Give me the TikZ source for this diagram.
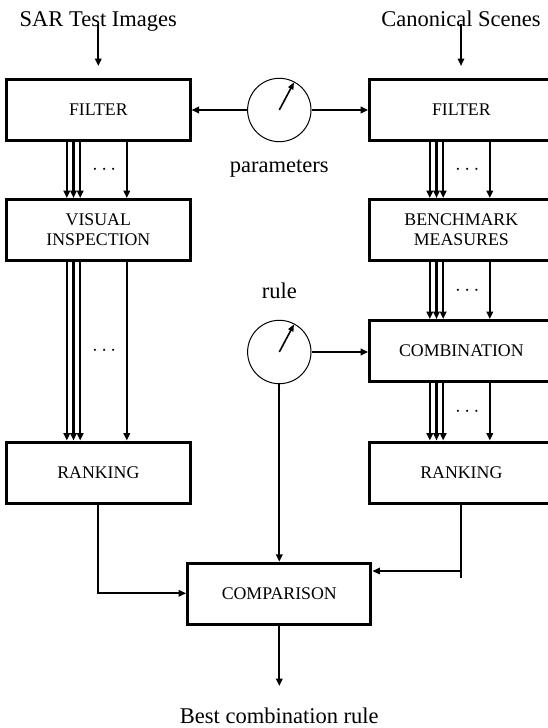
\documentclass[tikz,border=0pt]{standalone}
\usepackage{fontspec}
\setmainfont{Liberation Serif}
\usetikzlibrary{arrows.meta,calc}
\tikzset{
  box/.style={draw, line width=3pt, minimum width=183.3pt, minimum height=61pt,
    inner sep=0pt, align=center, font=\fontsize{17.8}{20}\selectfont},
  dial/.style={draw, circle, line width=1pt, minimum size=63.4pt, inner sep=0pt},
  lbl/.style={font=\fontsize{22.5}{27}\selectfont, inner sep=0pt, anchor=base},
  dotslbl/.style={font=\fontsize{21}{24}\selectfont, inner sep=0pt},
  arr/.style={line width=2.1pt, -{Triangle[length=7.5pt,width=6.5pt]}},
  plain/.style={line width=2.1pt},
  needle/.style={line width=1.6pt, -{Triangle[length=7pt,width=5.5pt]}}
}
\newcommand{\multiarrows}[2]{%
  \foreach \d in {61.6,68.3,75,121.6}
    \draw[arr] ($(#1.south west)+(\d,0)$) -- ($(#2.north west)+(\d,0)$);
  \node[dotslbl] at ($($(#1.south west)!0.5!(#2.north west)$)+(99,0)$) {$\cdots$};
}
\begin{document}
\begin{tikzpicture}[x=1pt,y=-1pt]
\useasboundingbox (0,0) rectangle (548,728);
% top labels
\node[lbl] (sar) at (98.3,26) {SAR Test Images};
\node[lbl] (can) at (461,26) {Canonical Scenes};
\coordinate (sarin) at (98.3,24);
\coordinate (sartip) at (98.3,66);
\coordinate (canin) at (461,24);
\coordinate (cantip) at (461,66);
% boxes
\node[box] (fl) at (98.35,109.5) {FILTER};
\node[box] (fr) at (461.35,109.5) {FILTER};
\node[box] (vi) at (98.35,230) {VISUAL\\INSPECTION};
\node[box] (bm) at (461.35,230) {BENCHMARK\\MEASURES};
\node[box] (cb) at (461.35,351) {COMBINATION};
\node[box] (rl) at (98.35,472.5) {RANKING};
\node[box] (rr) at (461.35,472.5) {RANKING};
\node[box] (cmp) at (279.3,593.8) {COMPARISON};
% dials
\node[dial] (pc) at (279.3,110) {};
\node[dial] (rc) at (279.3,352) {};
\node[lbl] (par) at (279.3,172) {parameters};
\node[lbl] (rul) at (279.3,298) {rule};
\draw[needle] (pc.center) -- ++(-62:31.3);
\draw[needle] (rc.center) -- ++(-62:31.3);
% output label
\node[lbl] (best) at (279.3,723) {Best combination rule};
\coordinate (besttip) at (279.3,686);
% connectors
\draw[arr] (sarin) -- (sartip);
\draw[arr] (canin) -- (cantip);
\draw[arr] (pc.west) -- (fl.east |- pc.west);
\draw[arr] (pc.east) -- (fr.west |- pc.east);
\draw[arr] (rc.east) -- (cb.west |- rc.east);
\draw[arr] (rc.south) -- (rc.south |- cmp.north);
\multiarrows{fl}{vi}
\multiarrows{fr}{bm}
\multiarrows{vi}{rl}
\multiarrows{bm}{cb}
\multiarrows{cb}{rr}
\coordinate (lturn) at (98.35,593.3);
\draw[arr] (rl.south) -- (lturn) -- (cmp.west |- lturn);
\coordinate (rend) at (461.35,578);
\coordinate (rjoin) at (461.35,571);
\draw[plain] (rr.south) -- (rend);
\draw[arr] (rjoin) -- (cmp.east |- rjoin);
\draw[arr] (cmp.south) -- (besttip);
\end{tikzpicture}
\end{document}
